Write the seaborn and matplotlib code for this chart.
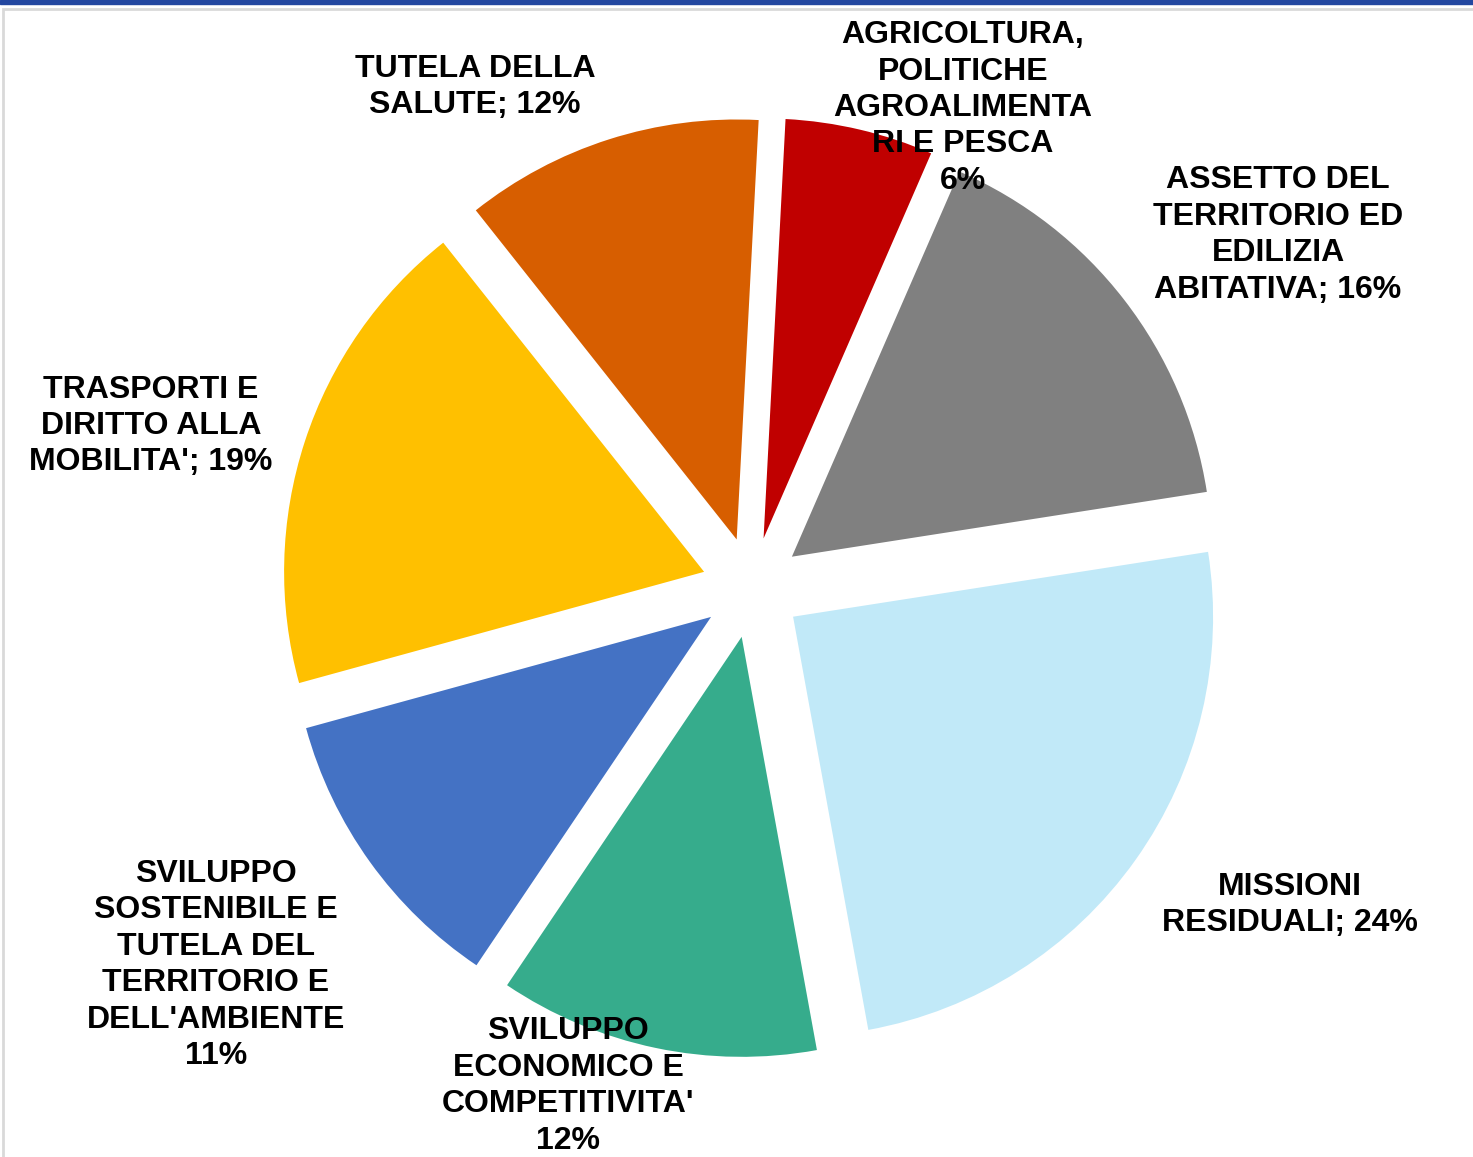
#!/usr/bin/env python3
"""
Exploded pie chart of spending by mission (Italian regional budget).
"""

import matplotlib.pyplot as plt
import seaborn as sns
from matplotlib.patches import Rectangle

# Data (clockwise from top)
labels = [
    "AGRICOLTURA,\nPOLITICHE\nAGROALIMENTA\nRI E PESCA\n6%",
    "ASSETTO DEL\nTERRITORIO ED\nEDILIZIA\nABITATIVA; 16%",
    "MISSIONI\nRESIDUALI; 24%",
    "SVILUPPO\nECONOMICO E\nCOMPETITIVITA'\n12%",
    "SVILUPPO\nSOSTENIBILE E\nTUTELA DEL\nTERRITORIO E\nDELL'AMBIENTE\n11%",
    "TRASPORTI E\nDIRITTO ALLA\nMOBILITA'; 19%",
    "TUTELA DELLA\nSALUTE; 12%",
]
shares = [5.7, 16.0, 24.6, 12.3, 11.3, 18.6, 11.5]
colors = ["#C00000", "#808080", "#C1E9F8", "#36AC8C", "#4472C4", "#FFC000", "#D75E00"]

# label centres in pixels of the 1473x1157 canvas
label_px = [(963, 108), (1278, 235), (1290, 905), (568, 1086),
            (216, 965), (151, 426), (475, 87)]

W, H = 1473, 1157
CX, CY, R = 752, 587.5, 420

sns.set_theme(style="white")
plt.rcParams['font.family'] = ['Liberation Sans', 'DejaVu Sans']

fig = plt.figure(figsize=(W / 100, H / 100), dpi=100)
ax = fig.add_axes([0, 0, 1, 1])

ax.pie(shares, colors=colors, startangle=87, counterclock=False,
       explode=[0.12] * len(shares), radius=1.0,
       wedgeprops=dict(linewidth=0))

ax.set_xlim(-CX / R, (W - CX) / R)
ax.set_ylim(-(H - CY) / R, CY / R)
ax.set_aspect('auto')
ax.axis('off')

for txt, (px, py) in zip(labels, label_px):
    ax.text((px - CX) / R, (CY - py) / R, txt, ha='center', va='center',
            fontsize=23, fontweight='bold', color='black', linespacing=1.28)

# page frame: blue top bar and light grey border
fig.patches.append(Rectangle((0, 1 - 4 / H), 1, 4 / H, transform=fig.transFigure,
                             color="#2347A0", zorder=5))
fig.patches.append(Rectangle((3.5 / W, -0.1), 1.2, 1 - 8.5 / H + 0.1,
                             transform=fig.transFigure, fill=False,
                             edgecolor="#D9D9D9", linewidth=2, zorder=5))

plt.savefig("out.png", dpi=100)
plt.close()
